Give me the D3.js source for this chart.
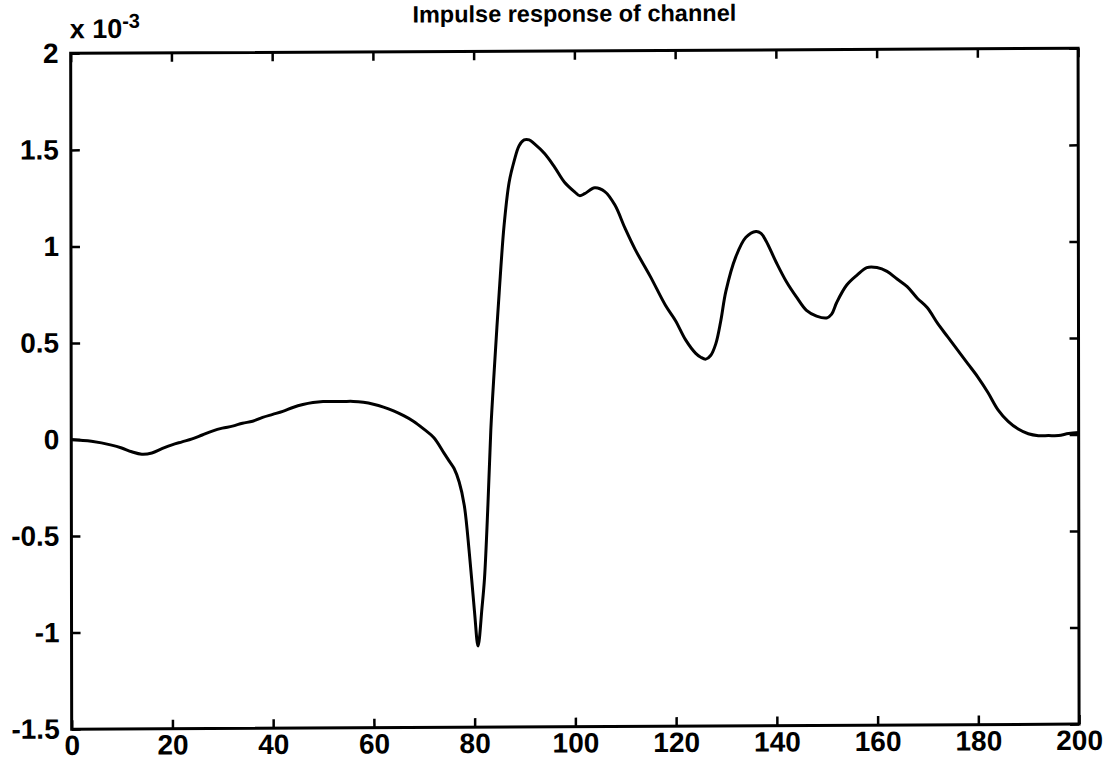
<!DOCTYPE html>
<html>
<head>
<meta charset="utf-8">
<script src="https://cdn.jsdelivr.net/npm/d3@7"></script>
<style>
  html, body { margin: 0; padding: 0; background: #fff; }
  svg { display: block; }
  text { font-family: "Liberation Sans", Arial, sans-serif; font-weight: bold; fill: #000; }
</style>
</head>
<body>
<svg id="chart" width="1118" height="771"></svg>
<script>
// Sample index of the channel impulse response
const sampleIndex = [
  0, 4, 8, 10, 12, 14, 16, 18, 20, 22, 24, 26, 28, 30, 32, 34, 36, 38, 40,
  42, 44, 46, 48, 50, 52, 54, 56, 58, 60, 62, 64, 66, 68, 70, 72, 74, 75,
  76, 77, 78, 79, 80, 80.7, 81.5, 82, 82.7, 83.3, 84, 85, 86, 87, 88, 89,
  90, 91, 92, 94, 96, 98, 100, 101, 102, 104, 106, 108, 110, 112, 115, 118,
  120, 122, 124, 125, 126, 127, 128, 129, 130, 132, 134, 136, 137, 138, 140,
  142, 144, 146, 148, 150, 151, 152, 154, 156, 158, 160, 162, 164, 166, 168,
  170, 172, 174, 176, 178, 180, 182, 184, 186, 188, 190, 192, 194, 196, 198, 200
];
// Response amplitude, in units of 1e-3
const response = [
  0, -0.01, -0.03, -0.045, -0.065, -0.078, -0.072, -0.05, -0.03, -0.015, 0.0, 0.02, 0.04, 0.055, 0.065, 0.08, 0.09, 0.11, 0.125,
  0.14, 0.16, 0.175, 0.185, 0.19, 0.19, 0.19, 0.19, 0.185, 0.175, 0.16, 0.14, 0.115, 0.085, 0.045, 0.0, -0.08, -0.12,
  -0.16, -0.23, -0.35, -0.6, -0.9, -1.08, -0.88, -0.73, -0.35, 0.04, 0.35, 0.75, 1.1, 1.32, 1.43, 1.51,
  1.54, 1.54, 1.52, 1.47, 1.40, 1.32, 1.27, 1.25, 1.26, 1.29, 1.27, 1.2, 1.08, 0.97, 0.83, 0.68,
  0.6, 0.5, 0.43, 0.41, 0.40, 0.42, 0.48, 0.6, 0.75, 0.93, 1.03, 1.06, 1.05, 1.01, 0.9,
  0.8, 0.72, 0.65, 0.62, 0.61, 0.63, 0.69, 0.78, 0.83, 0.87, 0.87, 0.85, 0.81, 0.77, 0.71,
  0.66, 0.58, 0.51, 0.44, 0.37, 0.30, 0.22, 0.13, 0.07, 0.03, 0.005, -0.005, -0.005, -0.005, 0.005, 0.01
];
const xTicks = [0, 20, 40, 60, 80, 100, 120, 140, 160, 180, 200];
const yTicks = [-1.5, -1, -0.5, 0, 0.5, 1, 1.5, 2];
const yTickLabels = ["-1.5", "-1", "-0.5", "0", "0.5", "1", "1.5", "2"];
const titleText = "Impulse response of channel";

const svg = d3.select("#chart");
// slight shear of the whole figure
const root = svg.append("g").attr("transform", "matrix(1,-0.005,0.0015,1,0,0)");

const plotLeft = 70.6, plotRight = 1078, plotTop = 53.7, plotBottom = 729.5;

const x = d3.scaleLinear().domain([0, 200]).range([plotLeft, plotRight]);
const y = d3.scaleLinear().domain([-1.5, 2]).range([plotBottom, plotTop]);

const tickLen = 9;

function styleAxis(g) {
  g.select(".domain").remove();
  g.selectAll(".tick line").attr("stroke", "#000").attr("stroke-width", 2.5);
  g.selectAll(".tick text").style("font-size", "28px").style("font-weight", "bold")
    .style("font-family", "'Liberation Sans', Arial, sans-serif").attr("fill", "#000");
}

// bottom axis with labels
root.append("g")
  .attr("transform", `translate(0,${plotBottom})`)
  .call(d3.axisBottom(x).tickValues(xTicks).tickSizeInner(-tickLen).tickSizeOuter(0).tickPadding(6).tickFormat(d3.format("d")))
  .call(styleAxis);

// top axis, ticks only
root.append("g")
  .attr("transform", `translate(0,${plotTop})`)
  .call(d3.axisTop(x).tickValues(xTicks).tickSizeInner(-tickLen).tickSizeOuter(0).tickFormat(""))
  .call(styleAxis);

// left axis with labels
root.append("g")
  .attr("transform", `translate(${plotLeft},0)`)
  .call(d3.axisLeft(y).tickValues(yTicks).tickSizeInner(-tickLen).tickSizeOuter(0).tickPadding(12)
    .tickFormat((d, i) => yTickLabels[i]))
  .call(styleAxis);

// right axis, ticks only
root.append("g")
  .attr("transform", `translate(${plotRight},0)`)
  .call(d3.axisRight(y).tickValues(yTicks).tickSizeInner(-tickLen).tickSizeOuter(0).tickFormat(""))
  .call(styleAxis);

// plot frame
root.append("rect")
  .attr("x", plotLeft).attr("y", plotTop)
  .attr("width", plotRight - plotLeft).attr("height", plotBottom - plotTop)
  .attr("fill", "none").attr("stroke", "#000").attr("stroke-width", 3);

// response curve
const line = d3.line()
  .x((d, i) => x(sampleIndex[i]))
  .y(d => y(d))
  .curve(d3.curveCatmullRom.alpha(0.5));

root.append("path")
  .datum(response)
  .attr("d", line)
  .attr("fill", "none")
  .attr("stroke", "#000")
  .attr("stroke-width", 3)
  .attr("stroke-linejoin", "round");

// exponent marker
const expo = root.append("text")
  .attr("x", plotLeft - 1).attr("y", 38.5)
  .style("font-size", "27px");
expo.append("tspan").text("x 10");
expo.append("tspan").attr("dy", -10).style("font-size", "20px").text("-3");

// title
root.append("text")
  .attr("x", (plotLeft + plotRight) / 2).attr("y", 24.5)
  .attr("text-anchor", "middle")
  .style("font-size", "23.5px")
  .text(titleText);
</script>
</body>
</html>
